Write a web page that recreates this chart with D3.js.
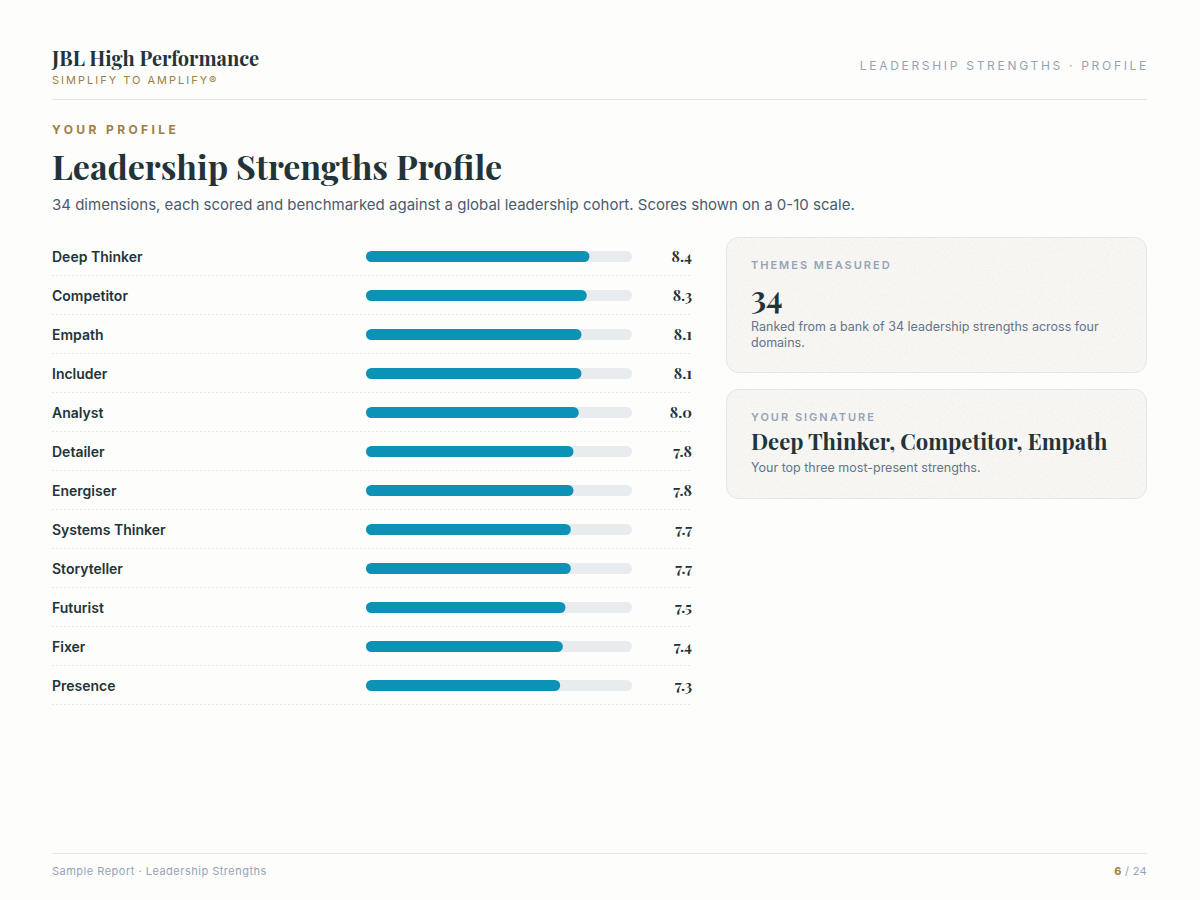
<!DOCTYPE html>
<html><head><meta charset="utf-8">
<script src="https://cdn.jsdelivr.net/npm/d3@7"></script>
<style>
html,body{margin:0;padding:0;background:#fdfdfb;}
svg{display:block;}
</style></head>
<body><div id="chart"></div>
<script>
const categories = ["Deep Thinker","Competitor","Empath","Includer","Analyst","Detailer","Energiser","Systems Thinker","Storyteller","Futurist","Fixer","Presence"];
const scores = [8.4,8.3,8.1,8.1,8.0,7.8,7.8,7.7,7.7,7.5,7.4,7.3];
const scaleDomain = [0,10];
const themesCount = "34";
const signature = "Deep Thinker, Competitor, Empath";

const W=1200,H=900;
const serif = "'Playfair Display','DejaVu Serif',Georgia,serif";
const sans = "Inter,'Noto Sans',sans-serif";
const dark="#22343a", gold="#a07d45", muted="#94a3b8", slate="#64748b";

const svg=d3.select("#chart").append("svg").attr("width",W).attr("height",H);
svg.append("rect").attr("width",W).attr("height",H).attr("fill","#fdfdfb");

const defs=svg.append("defs");
const f=defs.append("filter").attr("id","noise").attr("x",0).attr("y",0).attr("width","100%").attr("height","100%");
f.append("feTurbulence").attr("type","fractalNoise").attr("baseFrequency",0.9).attr("numOctaves",2).attr("stitchTiles","stitch").attr("result","t");
f.append("feColorMatrix").attr("in","t").attr("type","matrix").attr("values","0 0 0 0 0.6  0 0 0 0 0.6  0 0 0 0 0.55  1.2 0 0 0 -0.5").attr("result","n");
f.append("feComposite").attr("in","n").attr("in2","SourceGraphic").attr("operator","in");

// Header
svg.append("text").attr("x",52).attr("y",66).attr("font-family",serif).attr("font-weight",700).attr("font-size",20).attr("fill",dark).text("JBL High Performance");
svg.append("text").attr("x",52).attr("y",84).attr("font-family",sans).attr("font-size",11).attr("fill",gold).attr("letter-spacing",2).text("SIMPLIFY TO AMPLIFY®");
svg.append("text").attr("x",1149).attr("y",70).attr("text-anchor","end").attr("font-family",sans).attr("font-size",12).attr("fill",muted).attr("letter-spacing",2.7).text("LEADERSHIP STRENGTHS · PROFILE");
svg.append("line").attr("x1",52).attr("x2",1147).attr("y1",99.5).attr("y2",99.5).attr("stroke","#e3e5e8");

// Title block
svg.append("text").attr("x",52).attr("y",134).attr("font-family",sans).attr("font-weight",700).attr("font-size",12).attr("fill",gold).attr("letter-spacing",3.4).text("YOUR PROFILE");
svg.append("text").attr("x",52).attr("y",180).attr("font-family",serif).attr("font-weight",700).attr("font-size",34).attr("fill",dark).text("Leadership Strengths Profile");
svg.append("text").attr("x",52).attr("y",210).attr("font-family",sans).attr("font-size",15).attr("fill","#4b5a6e").text("34 dimensions, each scored and benchmarked against a global leadership cohort. Scores shown on a 0-10 scale.");

// Bars
const y=d3.scaleBand().domain(categories).range([237,705]).padding(0);
const x=d3.scaleLinear().domain(scaleDomain).range([366,632]);
const barH=11;
const rows=svg.append("g").selectAll("g").data(categories).join("g")
  .attr("transform",d=>`translate(0,${y(d)})`);
rows.append("line").attr("x1",52).attr("x2",691).attr("y1",y.bandwidth()-0.5).attr("y2",y.bandwidth()-0.5)
  .attr("stroke","#e6e8ea").attr("stroke-dasharray","2,2");
rows.append("text").attr("x",52).attr("y",y.bandwidth()/2+5).attr("font-family",sans).attr("font-weight",600).attr("font-size",14).attr("fill",dark).text(d=>d);
rows.append("rect").attr("x",x(0)).attr("y",y.bandwidth()/2-barH/2).attr("width",x(10)-x(0)).attr("height",barH).attr("rx",5.5).attr("fill","#e8ecef");
rows.append("rect").attr("x",x(0)).attr("y",y.bandwidth()/2-barH/2).attr("width",(d,i)=>x(scores[i])-x(0)).attr("height",barH).attr("rx",5.5).attr("fill","#0b92b4");
rows.append("text").attr("x",692).attr("y",y.bandwidth()/2+5).attr("text-anchor","end").attr("font-family",serif).attr("font-weight",700).attr("font-size",15).attr("fill",dark).text((d,i)=>scores[i].toFixed(1));

// Cards
function card(y0,h){
  svg.append("rect").attr("x",726.5).attr("y",y0+0.5).attr("width",420).attr("height",h).attr("rx",12).attr("fill","#f8f7f4").attr("stroke","#e4e6e9");
  svg.append("rect").attr("x",727).attr("y",y0+1).attr("width",419).attr("height",h-1).attr("rx",12).attr("fill","#f8f7f4").attr("filter","url(#noise)").attr("opacity",0.35);
}
card(237,135);
svg.append("text").attr("x",751).attr("y",269).attr("font-family",sans).attr("font-weight",600).attr("font-size",11).attr("fill",muted).attr("letter-spacing",2).text("THEMES MEASURED");
svg.append("text").attr("x",751).attr("y",309).attr("font-family",serif).attr("font-weight",700).attr("font-size",31).attr("fill",dark).text(themesCount);
svg.append("text").attr("x",751).attr("y",331).attr("font-family",sans).attr("font-size",12.5).attr("fill",slate).text("Ranked from a bank of 34 leadership strengths across four");
svg.append("text").attr("x",751).attr("y",347).attr("font-family",sans).attr("font-size",12.5).attr("fill",slate).text("domains.");

card(389,109);
svg.append("text").attr("x",751).attr("y",421).attr("font-family",sans).attr("font-weight",600).attr("font-size",11).attr("fill",muted).attr("letter-spacing",2).text("YOUR SIGNATURE");
svg.append("text").attr("x",751).attr("y",450).attr("font-family",serif).attr("font-weight",700).attr("font-size",22).attr("fill",dark).text(signature);
svg.append("text").attr("x",751).attr("y",472).attr("font-family",sans).attr("font-size",12.5).attr("fill",slate).text("Your top three most-present strengths.");

// Footer
svg.append("line").attr("x1",52).attr("x2",1147).attr("y1",853.5).attr("y2",853.5).attr("stroke","#e3e5e8");
svg.append("text").attr("x",52).attr("y",875).attr("font-family",sans).attr("font-size",11).attr("fill",muted).attr("letter-spacing",0.5).text("Sample Report · Leadership Strengths");
const pg=svg.append("text").attr("x",1147).attr("y",875).attr("text-anchor","end").attr("font-family",sans).attr("font-size",11).attr("fill",muted).attr("letter-spacing",0.3);
pg.append("tspan").attr("fill",gold).attr("font-weight",700).text("6");
pg.append("tspan").text(" / 24");
</script></body></html>
